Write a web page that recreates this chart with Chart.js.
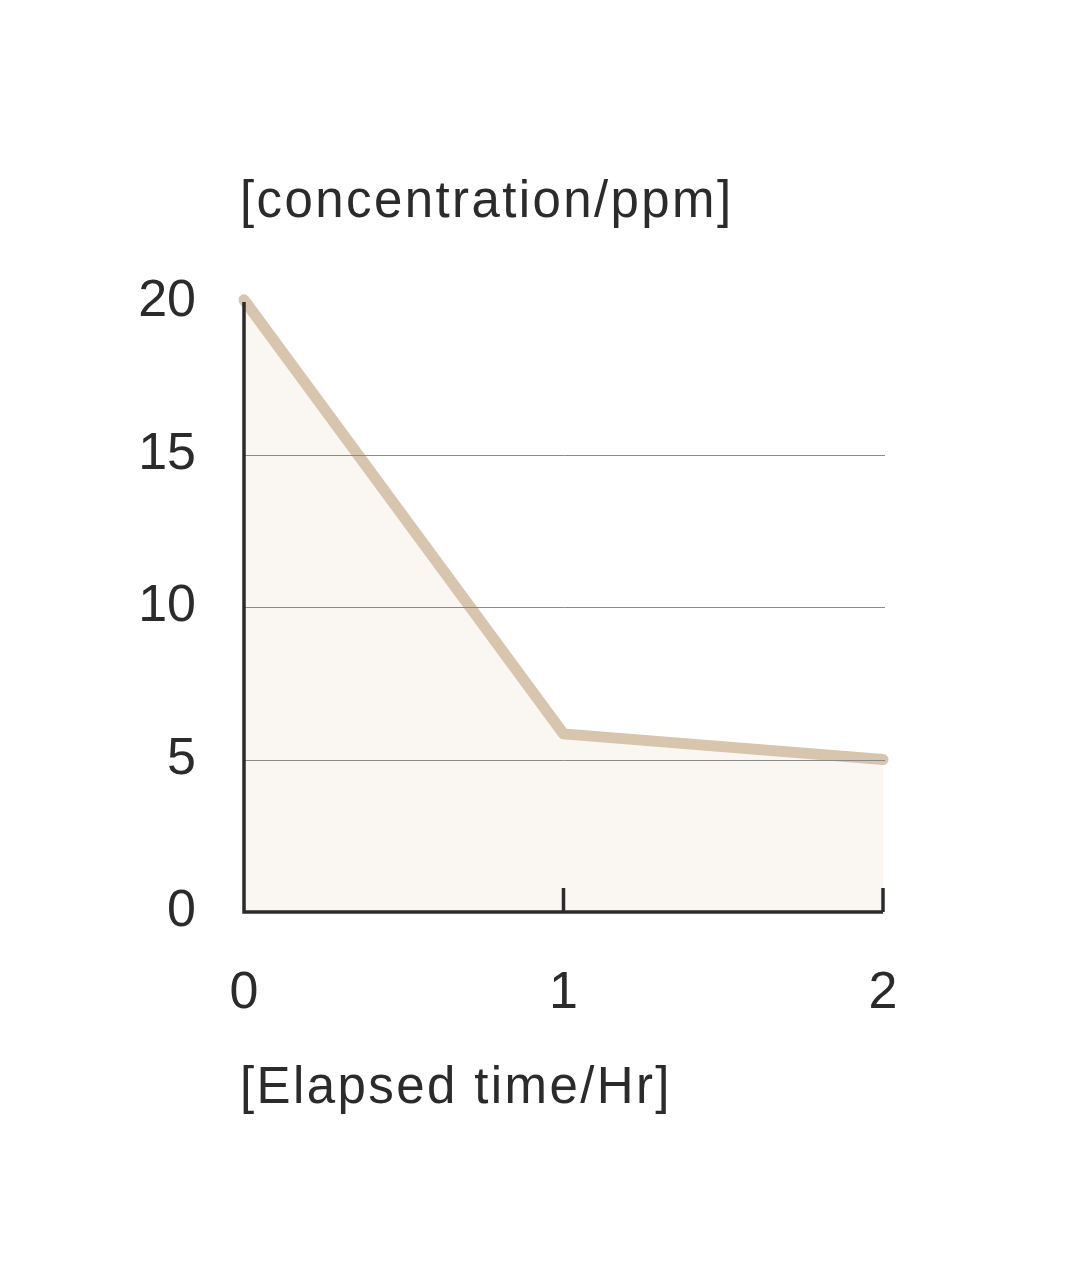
<!DOCTYPE html>
<html><head><meta charset="utf-8">
<script src="https://cdn.jsdelivr.net/npm/chart.js@4"></script>
<style>
html,body{margin:0;padding:0;background:#fff;}
#wrap{position:relative;width:1083px;height:1271px;}
canvas{position:absolute;left:0;top:0;}
.t{position:absolute;font-family:"Liberation Sans",Arial,sans-serif;font-size:51px;letter-spacing:2.4px;color:#2b2b2b;white-space:nowrap;}
</style></head><body>
<div id="wrap">
<canvas id="c" width="1083" height="1271"></canvas>
<div class="t" style="left:240px;top:170px;">[concentration/ppm]</div>
<div class="t" style="left:240px;top:1056px;">[Elapsed time/Hr]</div>
</div>
<script>
const hours = [0, 1, 2];
const concentration = [20.07, 5.84, 5.0];
const yTicks = [0, 5, 10, 15, 20];
const gridValues = [5, 10, 15];
const xTicks = [0, 1, 2];

const overlay = {
  id: 'overlay',
  afterDatasetsDraw(chart) {
    const {ctx, scales: {x, y}} = chart;
    ctx.save();
    ctx.strokeStyle = '#8a8a8a';
    ctx.lineWidth = 1;
    gridValues.forEach(v => {
      const py = Math.round(y.getPixelForValue(v)) + 0.5;
      ctx.beginPath(); ctx.moveTo(x.left, py); ctx.lineTo(x.right + 2, py); ctx.stroke();
    });
    ctx.strokeStyle = '#2b2b2b';
    ctx.lineWidth = 3.5;
    ctx.beginPath();
    ctx.moveTo(x.left, y.top);
    ctx.lineTo(x.left, y.bottom);
    ctx.lineTo(x.right, y.bottom);
    ctx.stroke();
    xTicks.slice(1).forEach(v => {
      const px = x.getPixelForValue(v);
      ctx.beginPath(); ctx.moveTo(px, y.bottom); ctx.lineTo(px, y.bottom - 24); ctx.stroke();
    });
    ctx.restore();
  }
};

new Chart(document.getElementById('c'), {
  type: 'line',
  data: {
    datasets: [{
      data: hours.map((h, i) => ({x: h, y: concentration[i]})),
      borderColor: '#d8c5ae',
      borderWidth: 11,
      borderCapStyle: 'round',
      borderJoinStyle: 'round',
      backgroundColor: '#faf6f1',
      fill: 'origin',
      pointRadius: 0,
      tension: 0,
      clip: false
    }]
  },
  options: {
    responsive: false,
    animation: false,
    layout: {padding: {left: 0, top: 302, right: 200, bottom: 239}},
    plugins: {legend: {display: false}, tooltip: {enabled: false}},
    scales: {
      x: {
        type: 'linear', min: 0, max: 2,
        afterFit(s) { s.height = 120; },
        afterBuildTicks(s) { s.ticks = xTicks.map(v => ({value: v})); },
        grid: {display: false, drawTicks: false},
        border: {display: false},
        ticks: {padding: 50, color: '#2b2b2b', font: {family: '"Liberation Sans",Arial,sans-serif', size: 52}}
      },
      y: {
        min: 0, max: 20,
        afterFit(s) { s.width = 244; },
        afterBuildTicks(s) { s.ticks = yTicks.map(v => ({value: v})); },
        grid: {display: false, drawTicks: false},
        border: {display: false},
        ticks: {padding: 48, color: '#2b2b2b', font: {family: '"Liberation Sans",Arial,sans-serif', size: 52}}
      }
    }
  },
  plugins: [overlay]
});
</script>
</body></html>
